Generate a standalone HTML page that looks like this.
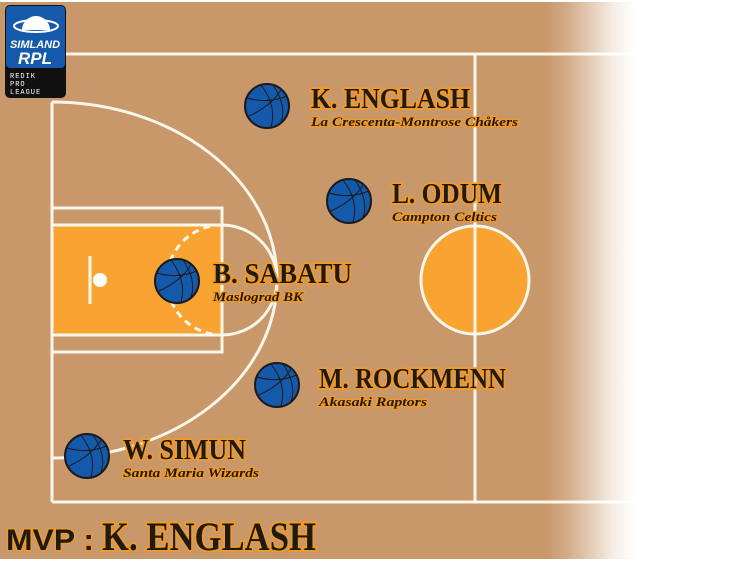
<!DOCTYPE html>
<html><head><style>
body{margin:0;width:738px;height:563px;overflow:hidden;background:#fff}
svg{display:block}
.n{font-family:"Liberation Serif",serif;font-weight:bold;fill:#1e1a16;stroke:#f39a26;stroke-width:3.5;paint-order:stroke}
.t{font-family:"Liberation Serif",serif;font-weight:bold;font-style:italic;fill:#1e1a16;stroke:#f39a26;stroke-width:2.5;paint-order:stroke}
</style></head><body>
<svg width="738" height="563" viewBox="0 0 738 563">
<defs>
<linearGradient id="wf" x1="545" x2="635" gradientUnits="userSpaceOnUse">
<stop offset="0" stop-color="#ffffff" stop-opacity="0"/>
<stop offset="0.25" stop-color="#ffffff" stop-opacity="0.2"/>
<stop offset="0.5" stop-color="#ffffff" stop-opacity="0.5"/>
<stop offset="0.75" stop-color="#ffffff" stop-opacity="0.82"/>
<stop offset="1" stop-color="#ffffff" stop-opacity="1"/>
</linearGradient>
<g id="ball">
<circle r="22" fill="#1559ab" stroke="#1a1a1a" stroke-width="2"/>
<path d="M-20,-8 Q0,-2 20,-10 M-18,10 Q4,0 14,-16 M-6,-21 Q10,0 4,21 M6,-21 Q20,0 14,16" fill="none" stroke="#1a1a1a" stroke-width="1"/>
</g>
</defs>
<rect x="0" y="2" width="640" height="557" fill="#c8976a"/>
<g stroke="#fbf6ea" stroke-width="3" fill="none">
<rect x="52" y="225" width="170" height="110" fill="#f8a332" stroke="none"/>
<circle cx="475" cy="280" r="54" fill="#f8a332"/>
<line x1="52" y1="54" x2="640" y2="54"/>
<line x1="52" y1="502" x2="640" y2="502"/>
<line x1="52" y1="102" x2="52" y2="502"/>
<line x1="475" y1="54" x2="475" y2="502"/>
<rect x="52" y="208" width="170" height="144"/>
<line x1="52" y1="225" x2="222" y2="225"/>
<line x1="52" y1="335" x2="222" y2="335"/>
<path d="M52,102 A225,178 0 0 1 52,458"/>
<path d="M222,225 A55,55 0 0 1 222,335"/>
<path d="M222,225 A55,55 0 0 0 222,335" stroke-dasharray="7,5"/>
<line x1="90" y1="256" x2="90" y2="304"/>
</g>
<circle cx="100" cy="280" r="7" fill="#fff"/>
<rect x="545" y="0" width="193" height="563" fill="url(#wf)"/>
<rect x="5" y="5" width="61" height="93" rx="5" fill="#111"/>
<rect x="6" y="6" width="59" height="62" rx="4" fill="#1559ab"/>
<ellipse cx="36" cy="26" rx="22" ry="6" fill="none" stroke="#fff" stroke-width="2"/>
<path d="M22,30 A14,14 0 0 1 50,30 Z" fill="#fff"/>
<text x="35" y="48" font-family="Liberation Sans" font-weight="bold" font-style="italic" font-size="11" fill="#fff" text-anchor="middle">SIMLAND</text>
<text x="35" y="64" font-family="Liberation Sans" font-weight="bold" font-style="italic" font-size="17" fill="#fff" text-anchor="middle">RPL</text>
<text x="10" y="78" font-family="Liberation Mono" font-size="7" fill="#fff" letter-spacing="1">REDIK</text>
<text x="10" y="86" font-family="Liberation Mono" font-size="7" fill="#fff" letter-spacing="1">PRO</text>
<text x="10" y="94" font-family="Liberation Mono" font-size="7" fill="#fff" letter-spacing="1">LEAGUE</text>
<use href="#ball" x="267" y="106"/>
<use href="#ball" x="349" y="201"/>
<use href="#ball" x="177" y="281"/>
<use href="#ball" x="277" y="385"/>
<use href="#ball" x="87" y="456"/>
<text class="n" x="311" y="108" font-size="28" textLength="159" lengthAdjust="spacingAndGlyphs">K. ENGLASH</text>
<text class="t" x="311" y="126" font-size="13" textLength="207" lengthAdjust="spacingAndGlyphs">La Crescenta-Montrose Chåkers</text>
<text class="n" x="392" y="203" font-size="28" textLength="110" lengthAdjust="spacingAndGlyphs">L. ODUM</text>
<text class="t" x="392" y="221" font-size="13" textLength="105" lengthAdjust="spacingAndGlyphs">Campton Celtics</text>
<text class="n" x="213" y="283" font-size="28" textLength="139" lengthAdjust="spacingAndGlyphs">B. SABATU</text>
<text class="t" x="213" y="301" font-size="13" textLength="90" lengthAdjust="spacingAndGlyphs">Maslograd BK</text>
<text class="n" x="319" y="388" font-size="28" textLength="187" lengthAdjust="spacingAndGlyphs">M. ROCKMENN</text>
<text class="t" x="319" y="406" font-size="13" textLength="108" lengthAdjust="spacingAndGlyphs">Akasaki Raptors</text>
<text class="n" x="123" y="459" font-size="28" textLength="123" lengthAdjust="spacingAndGlyphs">W. SIMUN</text>
<text class="t" x="123" y="477" font-size="13" textLength="136" lengthAdjust="spacingAndGlyphs">Santa Maria Wizards</text>
<text x="6" y="550" font-family="Liberation Sans" font-weight="bold" font-size="30" fill="#1e1a16" stroke="#f39a26" stroke-width="2.5" paint-order="stroke" textLength="88" lengthAdjust="spacingAndGlyphs">MVP :</text>
<text class="n" x="102" y="550" font-size="40" textLength="214" lengthAdjust="spacingAndGlyphs">K. ENGLASH</text>
</svg>
</body></html>
